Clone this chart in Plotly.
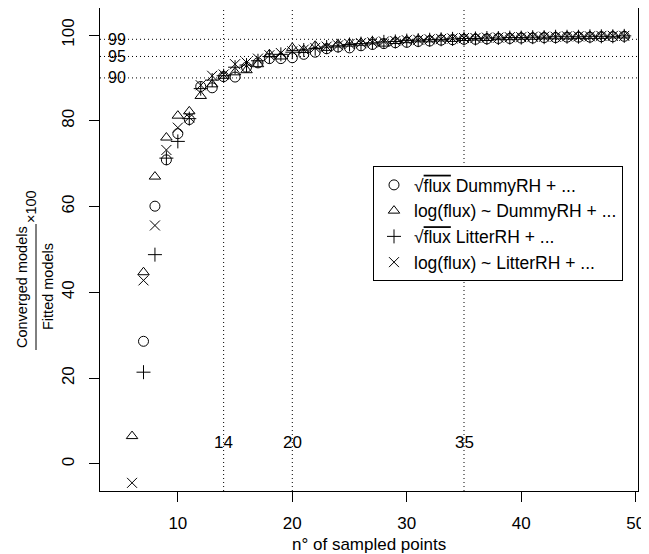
import plotly.graph_objects as go

# ---- data ----
n_points = list(range(6, 50))

sqrt_dummy = [None, 28.6, 60.1, 70.9, 77.0, 80.3, 88.0, 87.7, 90.3, 90.2, 92.5, 93.5, 94.5, 94.5,
              94.7, 95.5, 96.0, 96.8, 97.2, 97.0, 97.5, 97.8, 98.0, 98.2, 98.3, 98.5, 98.6, 98.8,
              98.9, 99.0, 99.0, 99.1, 99.2, 99.2, 99.3, 99.3, 99.4, 99.4, 99.5, 99.5, 99.5, 99.6,
              99.6, 99.7]
log_dummy = [6.5, 44.7, 67.0, 76.1, 81.2, 82.2, 85.8, 88.5, 90.5, 91.3, 91.8, 93.2, 95.5, 95.0,
             97.0, 96.5, 97.5, 97.0, 97.8, 98.0, 98.2, 98.5, 98.0, 98.6, 98.8, 99.0, 99.0, 99.2,
             99.1, 99.3, 99.4, 99.3, 99.5, 99.5, 99.6, 99.6, 99.7, 99.7, 99.7, 99.8, 99.8, 99.8,
             99.9, 99.9]
sqrt_litter = [None, 21.4, 48.8, 71.3, 75.2, 80.5, 87.5, 89.5, 90.5, 92.5, 93.0, 94.0, 95.0, 95.5,
               96.0, 96.5, 96.8, 97.2, 97.5, 97.8, 98.0, 98.2, 98.4, 98.5, 98.7, 98.8, 98.9, 99.0,
               99.1, 99.2, 99.2, 99.3, 99.3, 99.4, 99.4, 99.5, 99.5, 99.6, 99.6, 99.6, 99.7, 99.7,
               99.7, 99.8]
log_litter = [-4.4, 42.8, 55.6, 73.2, 78.4, 80.8, 88.3, 90.5, 90.8, 93.2, 93.6, 94.5, 95.3, 95.8,
              96.2, 96.6, 97.0, 97.3, 97.6, 97.9, 98.1, 98.3, 98.5, 98.6, 98.8, 98.9, 99.0, 99.1,
              99.2, 99.3, 99.3, 99.4, 99.4, 99.5, 99.5, 99.6, 99.6, 99.6, 99.7, 99.7, 99.7, 99.8,
              99.8, 99.8]

series_names = [
    "√<span style='text-decoration:overline'>flux</span> DummyRH + ...",
    "log(flux) ~ DummyRH + ...",
    "√<span style='text-decoration:overline'>flux</span> LitterRH + ...",
    "log(flux) ~ LitterRH + ...",
]
series_values = [sqrt_dummy, log_dummy, sqrt_litter, log_litter]
series_symbols = ["circle-open", "triangle-up-open", "cross-thin-open", "x-thin-open"]

hlines = [90, 95, 99]
vlines = [14, 20, 35]
x_ticks = [10, 20, 30, 40, 50]
y_ticks = [0, 20, 40, 60, 80, 100]

FONT = "Liberation Sans, Arial, Helvetica, sans-serif"
# page body has an 8px margin: the figure is placed at (8, 8) in the window
OFF = 8
W, H = 649 - OFF, 554 - OFF
ML, MR, MT, MB = 100 - OFF, 11, 0, 63
PW, PH = W - ML - MR, H - MT - MB


def px_x(px):  # page pixel -> paper
    return (px - OFF - ML) / PW


def px_y(py):  # page pixel -> paper
    return (H - MB - (py - OFF)) / PH


fig = go.Figure()
for name, vals, sym in zip(series_names, series_values, series_symbols):
    fig.add_trace(go.Scatter(
        x=n_points, y=vals, mode="markers", name=name, cliponaxis=False,
        marker=dict(symbol=sym, size=10, color="black", line=dict(color="black", width=1)),
    ))

DOT = "1px,3px"
shapes = []
for h in hlines:
    shapes.append(dict(type="line", xref="paper", x0=0, x1=1, yref="y", y0=h, y1=h,
                       line=dict(color="black", width=1, dash=DOT), layer="below"))
for v in vlines:
    shapes.append(dict(type="line", yref="paper", y0=0, y1=1, xref="x", x0=v, x1=v,
                       line=dict(color="black", width=1, dash=DOT), layer="below"))
# fraction bar of the y title
shapes.append(dict(type="line", xref="paper", yref="paper",
                   x0=px_x(36), x1=px_x(36), y0=px_y(350), y1=px_y(224),
                   line=dict(color="black", width=1)))

annotations = []
for h in hlines:
    annotations.append(dict(x=4.7, y=h, xref="x", yref="y", text=str(h), showarrow=False,
                            xanchor="center", yanchor="middle",
                            font=dict(size=16, color="black", family=FONT)))
for v in vlines:
    annotations.append(dict(x=v, y=5, xref="x", yref="y", text=str(v), showarrow=False,
                            xanchor="center", yanchor="middle",
                            font=dict(size=17, color="black", family=FONT)))
annotations += [
    dict(x=px_x(22), y=px_y(287), xref="paper", yref="paper", text="Converged models",
         textangle=-90, showarrow=False, xanchor="center", yanchor="middle",
         font=dict(size=14.5, color="black", family=FONT)),
    dict(x=px_x(48), y=px_y(287), xref="paper", yref="paper", text="Fitted models",
         textangle=-90, showarrow=False, xanchor="center", yanchor="middle",
         font=dict(size=14.5, color="black", family=FONT)),
    dict(x=px_x(31), y=px_y(207), xref="paper", yref="paper", text="×100",
         textangle=-90, showarrow=False, xanchor="center", yanchor="middle",
         font=dict(size=14.5, color="black", family=FONT)),
    dict(x=px_x(369), y=px_y(544), xref="paper", yref="paper", text="n° of sampled points",
         showarrow=False, xanchor="center", yanchor="middle",
         font=dict(size=17, color="black", family=FONT)),
]

axis_common = dict(showgrid=False, zeroline=False, showline=True, mirror=True,
                   linecolor="black", linewidth=1, ticks="outside", ticklen=10,
                   tickcolor="black", tickwidth=1, automargin=False,
                   tickfont=dict(size=17, color="black", family=FONT))

fig.update_layout(
    width=W, height=H,
    margin=dict(l=ML, r=MR, t=MT, b=MB, autoexpand=False),
    paper_bgcolor="white", plot_bgcolor="white",
    font=dict(family=FONT, color="black", size=17),
    xaxis=dict(range=[3.2, 50.2], tickvals=x_ticks, ticklabelstandoff=7, **axis_common),
    yaxis=dict(range=[-6.3, 106.3], tickvals=y_ticks, tickangle=-90, ticklabelstandoff=8,
               **axis_common),
    legend=dict(x=px_x(373), y=px_y(166), xanchor="left", yanchor="top",
                bgcolor="white", bordercolor="black", borderwidth=1,
                font=dict(size=17.5, color="black", family=FONT), tracegroupgap=0),
    shapes=shapes, annotations=annotations,
    showlegend=True,
)

fig.write_html("out.html")
